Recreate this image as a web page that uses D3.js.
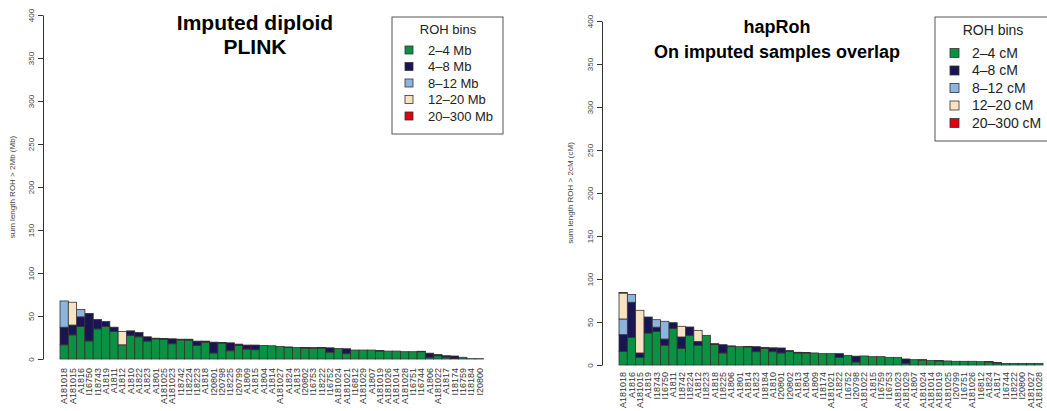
<!DOCTYPE html>
<html><head><meta charset="utf-8">
<script src="https://cdn.jsdelivr.net/npm/d3@7"></script>
<style>
body{margin:0;background:#fff}
svg{display:block}
text{font-family:"Liberation Sans",Arial,Helvetica,sans-serif}
</style>
</head><body>
<svg id="c" width="1047" height="411"></svg>
<script>
// ---------- data ----------
const binColors = ["#0a9141", "#1b1452", "#8db4df", "#f9e2c2", "#e0000f"];
const leftBins = ["2\u20134 Mb", "4\u20138 Mb", "8\u201312 Mb", "12\u201320 Mb", "20\u2013300 Mb"];
const rightBins = ["2\u20134 cM", "4\u20138 cM", "8\u201312 cM", "12\u201320 cM", "20\u2013300 cM"];
const yTicks = [0, 50, 100, 150, 200, 250, 300, 350, 400];

const leftSamples = ["A181018","A181015","A1816","I16750","I18743","A1819","A1811","A1812","A1810","A1822","A1823","A1801","A181025","A181023","I18742","I18224","I18223","A1818","I20801","I20798","I18225","I20799","A1809","A1815","A1804","A1814","A181027","A1824","A1813","I20802","I16753","I18222","I16752","A181024","A181021","I16812","A181029","A1807","A181019","A181026","A181014","A181028","I16751","I16744","A1806","A181022","A1817","I18174","I16759","I18184","I20800"];
const left2to4   = [16.5,28,37.7,21,35,37.7,32,16.5,27.3,25.8,20.8,23.5,23,17.7,22.3,22,15.8,19.6,7,18.5,9.6,15.8,11.5,10.8,15.8,15.4,14.6,13.5,13.5,12.7,12.7,12.7,8,12.3,6.2,10.4,10.4,10.4,9.2,9.2,9.2,8.5,8.5,8.5,2,3.8,2.3,0.5,2,0.4,0.4];
const left4to8   = [20.5,11.5,11.3,32,11,5.8,5,0,5.4,5,5,0.7,0.8,5.8,0.7,1,5,1.2,12.6,0.6,9.2,1.5,4.7,5.4,0,0,0,0.5,0,0.6,0.5,0.8,5,0,5.7,0,0,0,0.6,0,0,0,0,0.5,4.8,1.5,1.5,3,0,0,0];
const left8to12  = [30.5,0,8.7,0,0,0,0,0,0,0,0,0,0,0,0,0,0,0,0,0,0,0,0,0,0,0,0,0,0,0,0,0,0,0,0,0,0,0,0,0,0,0,0,0,0,0,0,0,0,0,0];
const left12to20 = [0,26.5,0,0,0,0,0,15.5,0,0,0,0,0,0,0,0,0,0,0,0,0,0,0,0,0,0,0,0,0,0,0,0,0,0,0,0,0,0,0,0,0,0,0,0,0,0,0,0,0,0,0];
const left20to300= [0,0,0,0,0,0,0,0,0,0,0,0,0,0,0,0,0,0,0,0,0,0,0,0,0,0,0,0,0,0,0,0,0,0,0,0,0,0,0,0,0,0,0,0,0,0,0,0,0,0,0];

const rightSamples = ["A181018","A1816","A181015","A1819","I18743","I16750","A1811","I18742","I18224","A1812","I18223","A1818","I18225","A1806","A1801","A1814","A1823","I18184","A1810","I20801","I20802","A1813","A1804","A1809","I18174","A181021","A1822","I16752","I20798","A181022","A1815","I16759","I16753","A181023","A181029","A1807","A181024","A181014","A181019","A181025","I20799","I16751","A181026","I16812","A1824","A1817","I16744","I18222","I20800","A181027","A181028"];
const right2to4   = [15.9,32,8.9,37.2,39,22.9,42.6,19.4,34.5,22.9,34.5,24,14,21.7,21.3,21,15.5,19.4,15.5,14,15.9,14,14,14,13.2,13.2,8.9,11.2,3.5,10.5,9.7,9.7,8.9,8.9,2,6.2,5.8,5.4,4.7,4.7,4.3,4.3,4.3,3.9,3.5,2.3,1.9,1.9,1.9,1.9,1.9];
const right4to8   = [19.4,41,5.1,18.6,5,7.3,6.6,13.2,9.7,4.6,0,0.8,9.6,0.5,0,0.5,5.8,1.1,4.5,5.8,0.8,0.8,0.6,0,0,0,4.3,0,6.8,0,0,0,0,0,5,0,0.4,0,0.6,0,0,0,0,0,0.5,0.6,0,0,0,0,0];
const right8to12  = [18.2,9,0,0,8.7,20.6,0,0,0,0,0,0,0,0,0,0,0,0,0,0,0,0,0,0,0,0,0,0,0,0,0,0,0,0,0,0,0,0,0,0,0,0,0,0,0,0,0,0,0,0,0];
const right12to20 = [30.2,0,49.6,0,0,0,0,12.4,0,12.8,0,0,0,0,0,0,0,0,0,0,0,0,0,0,0,0,0,0,0,0,0,0,0,0,0,0,0,0,0,0,0,0,0,0,0,0,0,0,0,0,0];
const right20to300= [0.5,0,0,0,0,0,0,0,0,0,0,0,0,0,0,0,0,0,0,0,0,0,0,0,0,0,0,0,0,0,0,0,0,0,0,0,0,0,0,0,0,0,0,0,0,0,0,0,0,0,0];

// ---------- drawing ----------
const svg = d3.select("#c");

function panel(cfg) {
  const keys = ["b0","b1","b2","b3","b4"];
  const rows = cfg.samples.map((s, i) => ({
    sample: s, b0: cfg.series[0][i], b1: cfg.series[1][i], b2: cfg.series[2][i], b3: cfg.series[3][i], b4: cfg.series[4][i]
  }));
  const stacked = d3.stack().keys(keys)(rows);
  const x = d3.scaleBand().domain(cfg.samples).range(cfg.xRange).paddingInner(0).paddingOuter(0);
  const y = d3.scaleLinear().domain([0, 400]).range(cfg.yRange);
  const g = svg.append("g");

  // bars
  stacked.forEach((layer, k) => {
    g.append("g").selectAll("rect")
      .data(layer.filter(d => d[1] - d[0] > 0))
      .join("rect")
      .attr("x", d => x(d.data.sample))
      .attr("width", x.bandwidth())
      .attr("y", d => y(d[1]))
      .attr("height", d => y(d[0]) - y(d[1]))
      .attr("fill", binColors[k])
      .attr("stroke", "#333")
      .attr("stroke-width", 0.8);
  });

  // y axis
  const ax = g.append("g")
    .attr("transform", `translate(${cfg.axisX},0)`)
    .call(d3.axisLeft(y).tickValues(yTicks).tickSize(5).tickSizeOuter(0));
  ax.select(".domain").attr("stroke", "#333");
  ax.selectAll(".tick line").attr("stroke", "#333");
  ax.selectAll(".tick text")
    .attr("x", 0).attr("y", -9).attr("dy", 0)
    .attr("transform", "rotate(-90)")
    .attr("text-anchor", "middle")
    .attr("font-size", 8)
    .attr("font-family", "Liberation Sans, Arial, sans-serif")
    .attr("fill", "#444");

  // y title
  g.append("text")
    .attr("transform", `translate(${cfg.yTitleX},${cfg.yTitleY}) rotate(-90)`)
    .attr("text-anchor", "middle")
    .attr("dy", "0.35em")
    .attr("font-size", 8)
    .attr("fill", "#444")
    .text(cfg.yTitle);

  // x labels
  g.append("g").selectAll("text")
    .data(cfg.samples)
    .join("text")
    .attr("transform", d => `translate(${x(d) + x.bandwidth() / 2},${cfg.labelY}) rotate(-90)`)
    .attr("text-anchor", "end")
    .attr("dy", "0.35em")
    .attr("font-size", 9)
    .attr("fill", "#333")
    .text(d => d);

  // title
  cfg.title.forEach((t, i) => {
    g.append("text")
      .attr("x", cfg.titleX).attr("y", cfg.titleY[i])
      .attr("dy", "0.35em")
      .attr("text-anchor", "middle")
      .attr("font-weight", "bold")
      .attr("font-size", cfg.titleSize)
      .attr("fill", "#000")
      .text(t);
  });

  // legend
  const L = cfg.legend;
  g.append("rect")
    .attr("x", L.x).attr("y", L.y).attr("width", L.w).attr("height", L.h)
    .attr("fill", "#fff").attr("stroke", "#555").attr("stroke-width", 1);
  g.append("text")
    .attr("x", L.titleX).attr("y", L.titleY).attr("dy", "0.35em")
    .attr("text-anchor", "middle").attr("font-size", L.fs).attr("fill", "#222")
    .text("ROH bins");
  cfg.bins.forEach((b, i) => {
    const yy = L.itemY0 + i * L.step;
    g.append("rect")
      .attr("x", L.swX).attr("y", yy - L.sw / 2).attr("width", L.sw).attr("height", L.sw)
      .attr("fill", binColors[i]).attr("stroke", "#333").attr("stroke-width", 0.8);
    g.append("text")
      .attr("x", L.textX).attr("y", yy).attr("dy", "0.35em")
      .attr("font-size", L.fs).attr("fill", "#222")
      .text(b);
  });
}

panel({
  samples: leftSamples,
  series: [left2to4, left4to8, left8to12, left12to20, left20to300],
  xRange: [60, 483.5],
  yRange: [359, 15],
  axisX: 43,
  yTitle: "sum length ROH > 2Mb (Mb)",
  yTitleX: 12, yTitleY: 187,
  labelY: 368,
  title: ["Imputed diploid", "PLINK"],
  titleX: 255, titleY: [23, 47], titleSize: 21,
  bins: leftBins,
  legend: {x: 392, y: 17, w: 111, h: 117, titleX: 448, titleY: 29, itemY0: 50, step: 16.5,
           swX: 405, sw: 8, textX: 428, fs: 13}
});

panel({
  samples: rightSamples,
  series: [right2to4, right4to8, right8to12, right12to20, right20to300],
  xRange: [619, 1043],
  yRange: [365, 21],
  axisX: 602,
  yTitle: "sum length ROH > 2cM (cM)",
  yTitleX: 570, yTitleY: 193,
  labelY: 372,
  title: ["hapRoh", "On imputed samples overlap"],
  titleX: 777, titleY: [27, 52], titleSize: 18,
  bins: rightBins,
  legend: {x: 935, y: 17, w: 120, h: 124, titleX: 993, titleY: 30, itemY0: 53, step: 17.5,
           swX: 950, sw: 9, textX: 972, fs: 14}
});
</script>
</body></html>
